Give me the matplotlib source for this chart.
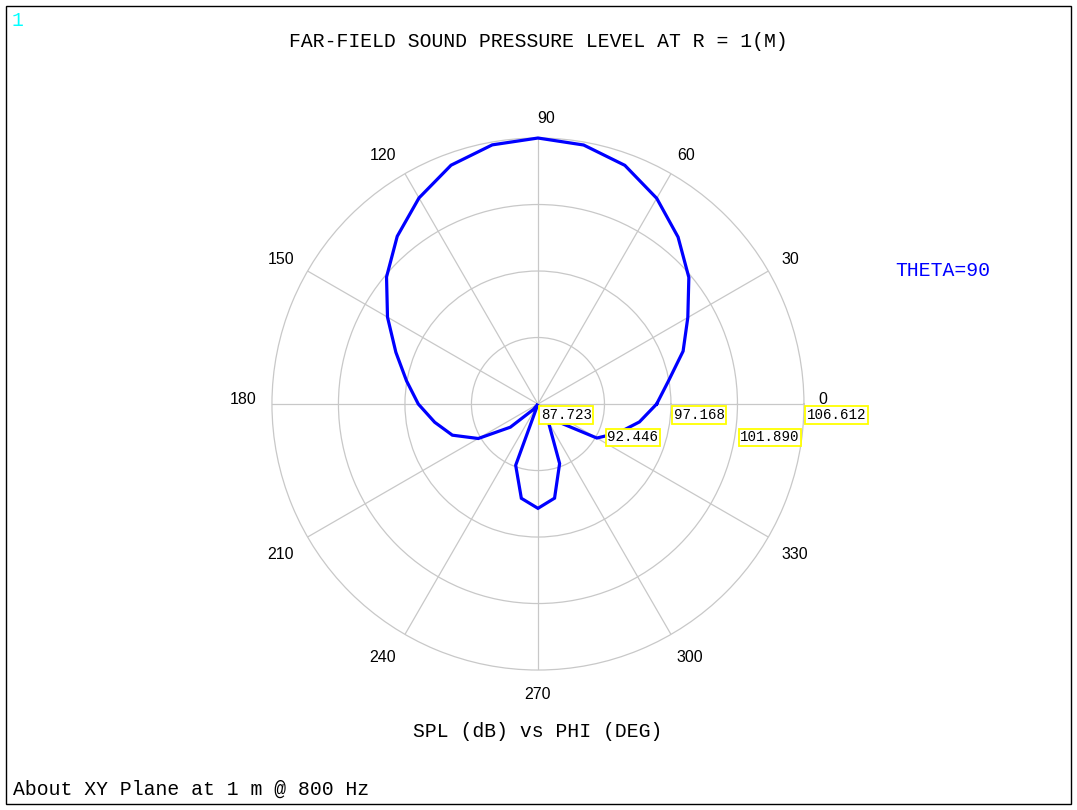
import matplotlib
matplotlib.use("Agg")
import matplotlib.pyplot as plt
import numpy as np
from matplotlib.patches import Rectangle

# far-field SPL (dB) every 10 deg of PHI
phi_deg = [0, 10, 20, 30, 40, 50, 60, 70, 80, 90, 100, 110, 120, 130, 140, 150, 160, 170,
           180, 190, 200, 210, 220, 230, 240, 250, 260, 270, 280, 290, 300, 310, 320, 330, 340, 350]
spl_db = [96.15, 97.13, 98.69, 100.01, 101.71, 103.20, 104.59, 105.76, 106.40, 106.612,
          106.41, 105.77, 104.62, 103.27, 101.76, 100.06, 98.46, 97.20,
          96.22, 95.17, 94.19, 92.62, 90.28, 88.22, 87.723, 92.35, 94.52, 95.13,
          94.51, 92.22, 89.21, 87.94, 89.80, 92.55, 93.76, 95.04]

ring_values = [87.723, 92.446, 97.168, 101.890, 106.612]
ring_labels = ["87.723", "92.446", "97.168", "101.890", "106.612"]
angle_ticks = [0, 30, 60, 90, 120, 150, 180, 210, 240, 270, 300, 330]

title = "FAR-FIELD SOUND PRESSURE LEVEL AT R = 1(M)"
xlabel = "SPL (dB) vs PHI (DEG)"
note = "About XY Plane at 1 m @ 800 Hz"
legend_txt = "THETA=90"

mono = "Liberation Mono"
grid_col = "#c8c8c8"

# pixel nudges of the angle labels off the outer ring (x right, y up)
lab_off = [(19, 5), (22, 12), (15, 18), (8, 20), (-22, 18), (-27, 12),
           (-29, 5), (-27, -17), (-22, -23), (0, -24), (19, -23), (26, -17)]

fig = plt.figure(figsize=(10.77, 8.10), dpi=100)
fig.patch.set_facecolor("white")

ax = fig.add_axes([0.2525, 0.1728, 0.494, 0.6568], projection="polar")

# close the curve
th = np.deg2rad(phi_deg + [phi_deg[0]])
rr = spl_db + [spl_db[0]]
ax.plot(th, rr, color="#0000ff", lw=2.3, solid_joinstyle="miter", clip_on=False, zorder=5)

ax.set_ylim(ring_values[0], ring_values[-1])
ax.set_yticks(ring_values[1:-1])
ax.set_yticklabels([])
ax.set_thetagrids(angle_ticks, [""] * len(angle_ticks))
ax.grid(True, color=grid_col, lw=0.9)
ax.spines["polar"].set_color(grid_col)
ax.spines["polar"].set_linewidth(0.9)

for a, (ox, oy) in zip(angle_ticks, lab_off):
    ax.annotate(str(a), xy=(np.deg2rad(a), ring_values[-1]), xytext=(ox * 0.72, oy * 0.72),
                textcoords="offset points", ha="center", va="center",
                fontsize=11.5, family="Liberation Sans", annotation_clip=False)

# yellow boxed ring values along the 0 deg axis
for i, (v, lab) in enumerate(zip(ring_values, ring_labels)):
    dy = -3 if i % 2 == 0 else -19
    ax.annotate(lab, xy=(0, v), xytext=(2, dy), textcoords="offset points",
                ha="left", va="top", fontsize=10.2, family=mono, color="black",
                annotation_clip=False, zorder=6,
                bbox=dict(boxstyle="square,pad=0.12", fc="white", ec="#ffff00", lw=1.3))

fig.text(0.4995, 0.949, title, ha="center", va="center", fontsize=14.2, family=mono)
fig.text(0.4995, 0.097, xlabel, ha="center", va="center", fontsize=14.2, family=mono)
fig.text(0.012, 0.025, note, ha="left", va="center", fontsize=14.2, family=mono)
fig.text(0.831, 0.666, legend_txt, ha="left", va="center", fontsize=14.2, family=mono,
         color="#0000ff")
fig.text(0.011, 0.975, "1", ha="left", va="center", fontsize=14.2, family=mono,
         color="#00ffff")

# frame around the whole plot window
fig.patches.append(Rectangle((6 / 1077, 6 / 810), 1065 / 1077, 798 / 810,
                             transform=fig.transFigure, fill=False, ec="black", lw=1))

fig.savefig("out.png", dpi=100)
